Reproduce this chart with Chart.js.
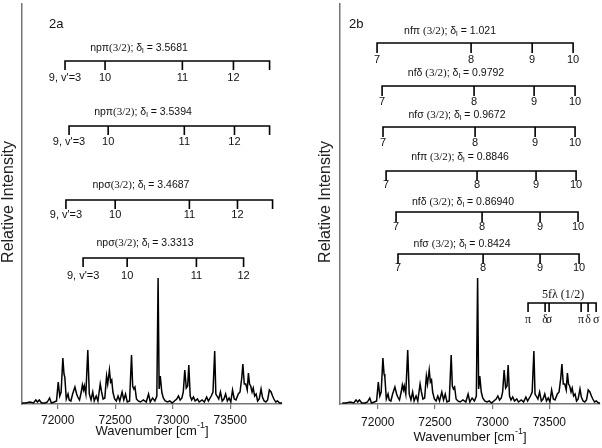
<!DOCTYPE html>
<html><head><meta charset="utf-8">
<script src="https://cdn.jsdelivr.net/npm/chart.js@4/dist/chart.umd.min.js"></script>
<style>
html,body{margin:0;padding:0;background:#fff;width:602px;height:448px;overflow:hidden;}
canvas{position:absolute;top:0;display:block;}
#c1{left:0;} #c2{left:300px;}
</style></head><body>
<canvas id="c1" width="300" height="448"></canvas>
<canvas id="c2" width="302" height="448"></canvas>
<script>
// ---------- spectrum (wavenumber in cm^-1, relative intensity in arbitrary units) ----------
const specWavenumber = [71690,71720,71760,71790,71810,71825,71840,71860,71890,71910,71930,71945,71970,71990,
72005,72018,72030,72045,72055,72062,72075,72090,72100,72115,72130,72150,72165,72175,72190,72205,72215,72225,72232,72245,
72262,72275,72290,72305,72318,72335,72350,72370,72382,72395,72410,72425,72435,72450,72460,72470,72480,72495,72510,72525,
72540,72560,72575,72590,72605,72625,72642,72652,72662,72672,72685,72700,72720,72745,72770,72790,72805,72825,72845,72862,
72873,72882,72892,72905,72918,72935,72955,72975,72995,73015,73035,73050,73065,73080,73092,73105,73118,73130,73140,73152,
73165,73180,73195,73215,73230,73255,73275,73295,73310,73335,73350,73365,73375,73385,73400,73415,73430,73445,73460,73475,
73490,73505,73520,73535,73550,73570,73585,73600,73610,73622,73635,73648,73658,73668,73678,73690,73700,73712,73725,73738,
73752,73768,73780,73795,73810,73825,73840,73855,73868,73880,73895,73910,73930,73950];
const specIntensity = [1,1,2,1,4,2,4,1,1,2,6,1,2,3,
22,8,12,46,30,27,5,10,4,3,10,17,10,7,4,12,19,14,18,10,
54,10,4,12,3,8,3,20,12,5,6,28,20,34,22,24,12,5,3,8,
3,12,4,10,2,3,49,18,15,17,5,3,2,4,2,10,2,6,3,8,
126,15,28,12,6,3,2,3,1,3,5,8,4,6,12,34,16,18,39,8,
4,7,3,5,2,4,2,7,3,8,12,53,10,8,5,12,3,5,10,3,
6,2,14,5,4,10,12,26,40,20,20,14,31,20,18,12,16,8,10,3,
5,15,7,3,2,4,14,12,8,5,2,3,1,1];
const xTickValues = [72000, 72500, 73000, 73500];

// ---------- panel 2a assignments (term positions, cm^-1) ----------
const npPi1Levels = [72064, 72412, 73084, 73528, 73842];
const npPi1Labels = ["9, v'=3", "10", "11", "12", ""];
const npPi2Levels = [72099, 72439, 73101, 73537, 73842];
const npPi2Labels = ["9, v'=3", "10", "11", "12", ""];
const npSig1Levels = [72072, 72500, 73145, 73563, 73868];
const npSig1Labels = ["9, v'=3", "10", "11", "12", ""];
const npSig2Levels = [72221, 72604, 73206, 73616];
const npSig2Labels = ["9, v'=3", "10", "11", "12"];

// ---------- panel 2b assignments ----------
const nfLabels = ["7", "8", "9", "10"];
const nfPi1Levels = [71994, 72816, 73350, 73708];
const nfDel1Levels = [72038, 72842, 73367, 73725];
const nfSig1Levels = [72046, 72851, 73376, 73725];
const nfPi2Levels = [72073, 72868, 73384, 73734];
const nfDel2Levels = [72160, 72912, 73419, 73751];
const nfSig2Levels = [72177, 72921, 73419, 73760];
const f5Levels = [73314, 73463, 73498, 73778, 73839, 73909];
const f5Labels = ["π", "δ", "σ", "π", "δ", "σ"];

// ---------- styling ----------
const SANS = "Liberation Sans, Arial, sans-serif";
const SERIF = "Liberation Serif, Times New Roman, serif";
const F_SANS = "10.5px " + SANS, F_SERIF = "11px " + SERIF, F_SUB = "7.5px " + SANS;
const F_LAB = "11px " + SANS;

function titleParts(pre, qn, delta) {
  return [
    {t: pre, font: F_SANS}, {t: qn, font: F_SERIF}, {t: "; δ", font: F_SANS},
    {t: "l", font: F_SUB, dy: 3}, {t: " = " + delta, font: F_SANS}
  ];
}

function drawRich(ctx, parts, cx, cy) {
  let w = 0;
  parts.forEach(p => { ctx.font = p.font; p.w = ctx.measureText(p.t).width; w += p.w; });
  let x = cx - w / 2;
  ctx.textAlign = "left"; ctx.textBaseline = "middle";
  parts.forEach(p => { ctx.font = p.font; ctx.fillText(p.t, x, cy + (p.dy || 0)); x += p.w; });
}

function drawComb(ctx, xs, c) {
  const px = c.levels.map(v => xs.getPixelForValue(v));
  ctx.save();
  ctx.strokeStyle = "#000"; ctx.lineWidth = 1.6; ctx.fillStyle = "#111";
  ctx.beginPath();
  ctx.moveTo(px[0], c.lineY + c.tick); ctx.lineTo(px[0], c.lineY);
  ctx.lineTo(px[px.length - 1], c.lineY); ctx.lineTo(px[px.length - 1], c.lineY + c.tick);
  for (let i = 1; i < px.length - 1; i++) { ctx.moveTo(px[i], c.lineY); ctx.lineTo(px[i], c.lineY + c.tick); }
  ctx.stroke();
  ctx.font = c.labelFont; ctx.textAlign = "center"; ctx.textBaseline = "middle";
  c.labels.forEach((l, i) => { if (l) ctx.fillText(l, px[i], c.labelY); });
  if (c.title) drawRich(ctx, c.title, xs.getPixelForValue(c.titleX), c.titleY);
  ctx.restore();
}

function annotPlugin(cfg) {
  return {
    id: "annot",
    afterDraw(chart) {
      const ctx = chart.ctx, xs = chart.scales.x;
      ctx.save();
      ctx.fillStyle = "#111";
      ctx.font = "13px " + SANS; ctx.textAlign = "left"; ctx.textBaseline = "middle";
      ctx.fillText(cfg.panel, cfg.panelX, 24);
      ctx.save();
      ctx.translate(cfg.yTitleX, 202); ctx.rotate(-Math.PI / 2);
      ctx.font = "16px " + SANS; ctx.textAlign = "center"; ctx.textBaseline = "middle";
      ctx.fillStyle = "#222";
      ctx.fillText("Relative Intensity", 0, 0);
      ctx.restore();
      const cx = (chart.chartArea.left + chart.chartArea.right) / 2;
      drawRich(ctx, [
        {t: "Wavenumber [cm", font: "13px " + SANS},
        {t: "-1", font: "9px " + SANS, dy: -5},
        {t: "]", font: "13px " + SANS}
      ], cx, cfg.xTitleY);
      cfg.combs.forEach(c => drawComb(ctx, xs, c));
      ctx.restore();
    }
  };
}

function makeChart(id, xmin, xmax, yAxisW, padRight, tickPad, cfg) {
  return new Chart(document.getElementById(id), {
    type: "line",
    data: {
      datasets: [{
        data: specWavenumber.map((w, i) => ({x: w, y: specIntensity[i]})),
        borderColor: "#000", borderWidth: 1.5, pointRadius: 0, tension: 0, fill: false
      }]
    },
    options: {
      responsive: false, animation: false, devicePixelRatio: 1,
      layout: {padding: {top: 4, right: padRight, left: 0, bottom: 0}},
      plugins: {legend: {display: false}, tooltip: {enabled: false}, title: {display: false}},
      scales: {
        x: {
          type: "linear", min: xmin, max: xmax,
          afterBuildTicks(s) { s.ticks = xTickValues.map(v => ({value: v})); },
          afterFit(s) { s.height = 44; },
          grid: {display: true, drawOnChartArea: false, drawTicks: true, tickLength: 5, color: "#777", lineWidth: 1.2},
          border: {display: true, color: "#777", width: 1.5},
          ticks: {font: {family: SANS, size: 12}, color: "#111", padding: tickPad, maxRotation: 0, autoSkip: false,
                  callback: v => String(v)}
        },
        y: {
          min: 0, max: 400,
          afterFit(s) { s.width = yAxisW; },
          grid: {display: false},
          border: {display: true, color: "#777", width: 1.5},
          ticks: {display: false}
        }
      }
    },
    plugins: [annotPlugin(cfg)]
  });
}

makeChart("c1", 71690, 73950, 22, 18, 4, {
  panel: "2a", panelX: 49, yTitleX: 9, xTitleY: 431,
  combs: [
    {levels: npPi1Levels, labels: npPi1Labels, lineY: 61, tick: 9, labelY: 78, labelFont: F_LAB,
     title: titleParts("npπ", "(3/2)", "3.5681"), titleX: 72707, titleY: 48},
    {levels: npPi2Levels, labels: npPi2Labels, lineY: 126, tick: 9, labelY: 142, labelFont: F_LAB,
     title: titleParts("npπ", "(3/2)", "3.5394"), titleX: 72742, titleY: 112},
    {levels: npSig1Levels, labels: npSig1Labels, lineY: 200, tick: 9, labelY: 215, labelFont: F_LAB,
     title: titleParts("npσ", "(3/2)", "3.4687"), titleX: 72724, titleY: 185},
    {levels: npSig2Levels, labels: npSig2Labels, lineY: 258, tick: 9, labelY: 276, labelFont: F_LAB,
     title: titleParts("npσ", "(3/2)", "3.3313"), titleX: 72759, titleY: 243}
  ]
});

makeChart("c2", 71670, 73943, 40, 2, 6, {
  panel: "2b", panelX: 49, yTitleX: 26, xTitleY: 437,
  combs: [
    {levels: nfPi1Levels, labels: nfLabels, lineY: 43, tick: 10, labelY: 60, labelFont: F_LAB,
     title: titleParts("nfπ ", "(3/2)", "1.021"), titleX: 72632, titleY: 31},
    {levels: nfDel1Levels, labels: nfLabels, lineY: 86, tick: 10, labelY: 102, labelFont: F_LAB,
     title: titleParts("nfδ ", "(3/2)", "0.9792"), titleX: 72684, titleY: 73},
    {levels: nfSig1Levels, labels: nfLabels, lineY: 127, tick: 10, labelY: 143, labelFont: F_LAB,
     title: titleParts("nfσ ", "(3/2)", "0.9672"), titleX: 72693, titleY: 115},
    {levels: nfPi2Levels, labels: nfLabels, lineY: 171, tick: 10, labelY: 185, labelFont: F_LAB,
     title: titleParts("nfπ ", "(3/2)", "0.8846"), titleX: 72719, titleY: 157},
    {levels: nfDel2Levels, labels: nfLabels, lineY: 212, tick: 10, labelY: 227, labelFont: F_LAB,
     title: titleParts("nfδ ", "(3/2)", "0.86940"), titleX: 72745, titleY: 202},
    {levels: nfSig2Levels, labels: nfLabels, lineY: 254, tick: 10, labelY: 268, labelFont: F_LAB,
     title: titleParts("nfσ ", "(3/2)", "0.8424"), titleX: 72737, titleY: 244},
    {levels: f5Levels, labels: f5Labels, lineY: 303, tick: 9, labelY: 320, labelFont: "12px " + SERIF,
     title: [{t: "5fλ (1/2)", font: "12px " + SERIF}], titleX: 73620, titleY: 295}
  ]
});
</script>
</body></html>
